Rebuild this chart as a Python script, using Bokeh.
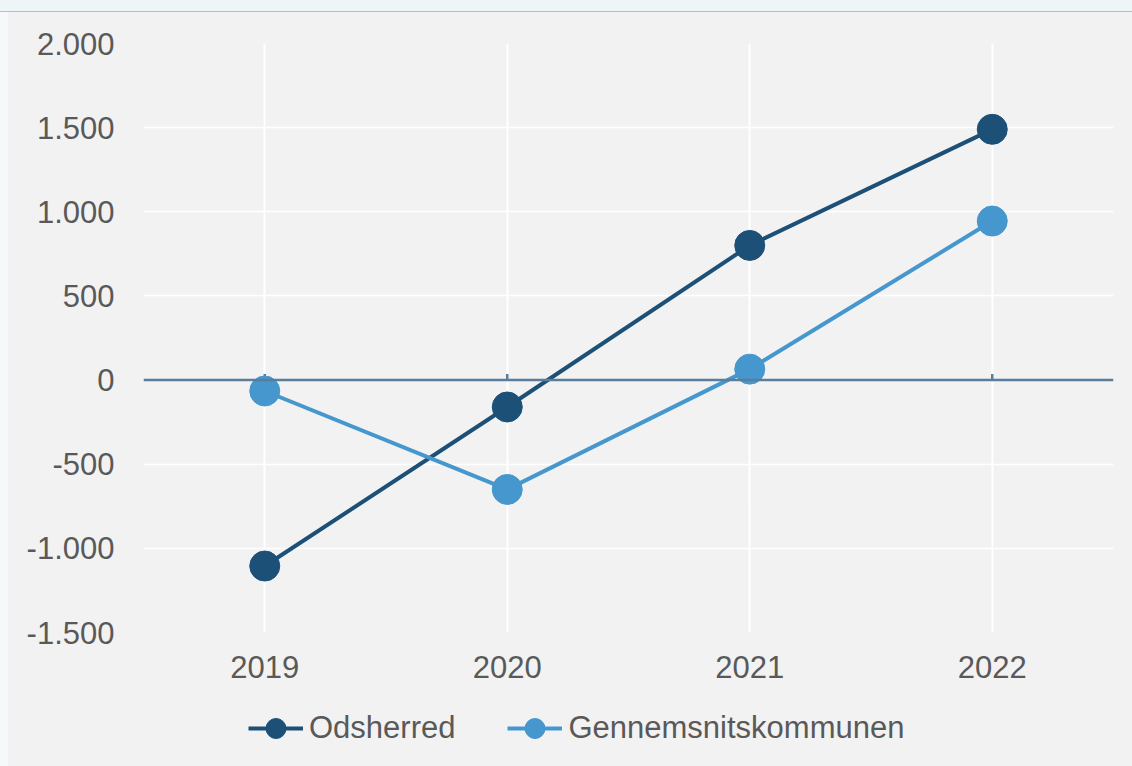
from bokeh.plotting import figure
from bokeh.models import (FactorRange, Range1d, Span, FixedTicker, CustomJSTickFormatter,
                          Legend, LegendItem, ColumnDataSource)
from bokeh.layouts import column
from bokeh.embed import file_html
from bokeh.resources import INLINE

years = ["2019", "2020", "2021", "2022"]
odsherred = [-1105, -160, 800, 1490]
gennemsnit = [-65, -650, 65, 945]
y_ticks = [-1500, -1000, -500, 0, 500, 1000, 1500, 2000]
series_names = ["Odsherred", "Gennemsnitskommunen"]

DARK = "#1c5077"
LIGHT = "#4597cd"
TXT = "#595959"
FONT = "Liberation Sans"
BG = "#f2f2f2"

p = figure(x_range=FactorRange(*years, range_padding=0), y_range=Range1d(-1500, 2000),
           width=1124, height=690, output_backend="svg", toolbar_location=None,
           min_border_left=135, min_border_right=19, min_border_top=31, min_border_bottom=70)
p.background_fill_color = BG
p.border_fill_color = BG
p.outline_line_color = None

p.xgrid.grid_line_color = "white"
p.xgrid.grid_line_width = 2
p.ygrid.grid_line_color = "white"
p.ygrid.grid_line_width = 1.5
p.yaxis.ticker = FixedTicker(ticks=y_ticks)
p.yaxis.formatter = CustomJSTickFormatter(code="""
const s = Math.abs(tick).toFixed(0).replace(/\\B(?=(\\d{3})+(?!\\d))/g, ".");
return (tick < 0 ? "-" : "") + s;
""")

for ax in (p.xaxis, p.yaxis):
    ax.axis_line_color = None
    ax.major_tick_line_color = None
    ax.minor_tick_line_color = None
    ax.major_tick_out = 0
    ax.major_tick_in = 0
    ax.major_label_text_font = FONT
    ax.major_label_text_font_size = "31px"
    ax.major_label_text_color = TXT
p.yaxis.major_label_standoff = 29
p.xaxis.major_label_standoff = 23

zero = Span(location=0, dimension="width", line_color="#5a7d9b", line_width=2.5)
p.add_layout(zero)
p.segment(x0=years, x1=years, y0=[0] * 4, y1=[36] * 4, line_color="#5a7d9b", line_width=2.5)

src = ColumnDataSource(dict(x=years, a=odsherred, b=gennemsnit))
p.line("x", "a", source=src, line_color=DARK, line_width=4)
p.scatter("x", "a", source=src, size=30, fill_color=DARK, line_color=DARK)
p.line("x", "b", source=src, line_color=LIGHT, line_width=4)
p.scatter("x", "b", source=src, size=30, fill_color=LIGHT, line_color=LIGHT)

# legend strip below the chart (its frame is aligned with the chart's frame)
q = figure(x_range=Range1d(0, 1), y_range=Range1d(0, 1), width=1124, height=56,
           output_backend="svg", toolbar_location=None,
           x_axis_location=None, y_axis_location=None,
           min_border_left=135, min_border_right=19, min_border_top=0, min_border_bottom=0)
q.grid.visible = False
q.background_fill_color = BG
q.border_fill_color = BG
q.outline_line_color = None
nan = float("nan")
items = []
for name, col in zip(series_names, [DARK, LIGHT]):
    lsrc = ColumnDataSource(dict(x=[nan, nan], y=[nan, nan]))
    lr = q.line("x", "y", source=lsrc, line_color=col, line_width=4)
    sr = q.scatter("x", "y", source=lsrc, size=29, fill_color=col, line_color=col)
    items.append(LegendItem(label=name, renderers=[lr, sr]))
legend = Legend(items=items, location=(105, 5), orientation="horizontal")
legend.glyph_width = 55
legend.glyph_height = 50
legend.label_standoff = 6
legend.spacing = 52
legend.padding = 0
legend.margin = 0
legend.label_text_font = FONT
legend.label_text_font_size = "31px"
legend.label_text_color = TXT
legend.background_fill_alpha = 0
legend.border_line_color = None
q.add_layout(legend, "center")

layout = column(p, q, spacing=0)

html = file_html(layout, INLINE)
css = ("<style>html body{padding:12px 0 0 8px !important;margin:0 !important;"
       "background:linear-gradient(to right, #f5f9fa 0px, #f5f9fa 8px, rgba(0,0,0,0) 8px) 0 12px / 100% 100% no-repeat,"
       "linear-gradient(to bottom, #edf5f7 0px, #edf5f7 11px, #b8c0c0 11px, "
       "#b8c0c0 12px, #f2f2f2 12px) !important;overflow:hidden;}</style>")
html = html.replace("</head>", css + "</head>", 1)
open("out.html", "w").write(html)
